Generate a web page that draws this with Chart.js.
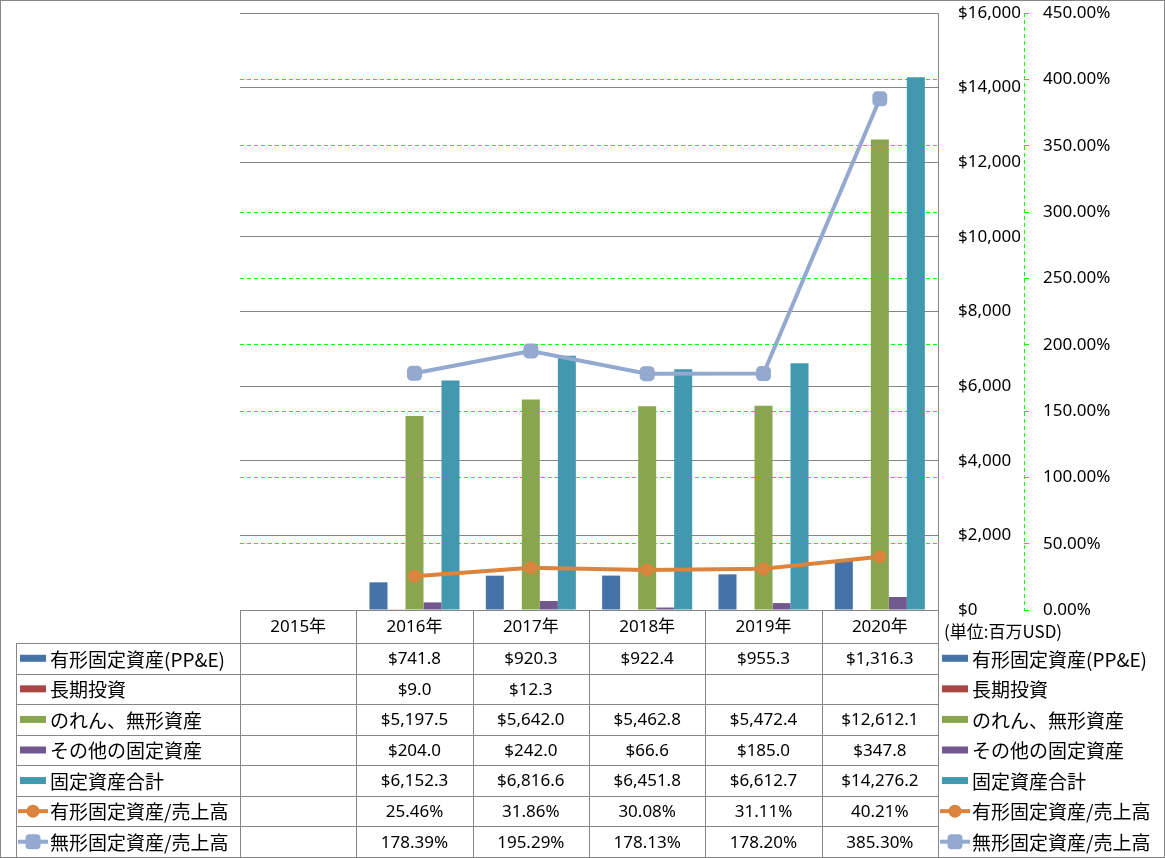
<!DOCTYPE html>
<html>
<head>
<meta charset="utf-8">
<script src="https://cdn.jsdelivr.net/npm/chart.js@4.4.0/dist/chart.umd.min.js"></script>
<style>
  body { margin: 0; background: #fff; }
</style>
</head>
<body>
<canvas id="chart" width="1165" height="858"></canvas>
<script>
// data (millions USD / percent)
var years = ['2015年', '2016年', '2017年', '2018年', '2019年', '2020年'];
var ppe = [null, 741.8, 920.3, 922.4, 955.3, 1316.3];
var longInvest = [null, 9.0, 12.3, null, null, null];
var goodwill = [null, 5197.5, 5642.0, 5462.8, 5472.4, 12612.1];
var otherAssets = [null, 204.0, 242.0, 66.6, 185.0, 347.8];
var totalAssets = [null, 6152.3, 6816.6, 6451.8, 6612.7, 14276.2];
var tangibleRatio = [null, 25.46, 31.86, 30.08, 31.11, 40.21];
var intangibleRatio = [null, 178.39, 195.29, 178.13, 178.20, 385.30];
var dollarTicks = [0, 16000, 2000];   // min, max, step
var percentTicks = [0, 450, 50];
var unitNote = '(単位:百万USD)';

var gridGray = '#868686';
var green = '#00ff00';
var font = "'Noto Sans', 'Noto Sans CJK JP', sans-serif";
var cjkFont = "'Noto Sans CJK JP', sans-serif";

var series = [
  { name: '有形固定資産(PP&E)', data: ppe, color: '#4572a7', kind: 'bar' },
  { name: '長期投資', data: longInvest, color: '#aa4643', kind: 'bar' },
  { name: 'のれん、無形資産', data: goodwill, color: '#89a54e', kind: 'bar' },
  { name: 'その他の固定資産', data: otherAssets, color: '#71588f', kind: 'bar' },
  { name: '固定資産合計', data: totalAssets, color: '#4198af', kind: 'bar' },
  { name: '有形固定資産/売上高', data: tangibleRatio, color: '#db843d', kind: 'circle' },
  { name: '無形固定資産/売上高', data: intangibleRatio, color: '#93a9cf', kind: 'square' }
];

function money(v) {
  if (v == null) return '';
  return '$' + v.toLocaleString('en-US', { minimumFractionDigits: 1, maximumFractionDigits: 1 });
}
function pct(v) {
  if (v == null) return '';
  return v.toFixed(2) + '%';
}

var datasets = series.map(function(s) {
  if (s.kind == 'bar') {
    return {
      type: 'bar', label: s.name, data: s.data,
      backgroundColor: s.color, yAxisID: 'y', order: 1
    };
  }
  return {
    type: 'line', label: s.name, data: s.data,
    borderColor: s.color, backgroundColor: s.color,
    borderWidth: 4, yAxisID: 'yp', order: 0,
    pointStyle: s.kind == 'circle' ? 'circle' : 'rectRounded',
    pointRadius: s.kind == 'circle' ? 6.5 : 8.7,
    pointBorderWidth: 0
  };
});

function drawKey(ctx, s, x, y) {
  ctx.save();
  if (s.kind == 'bar') {
    ctx.fillStyle = s.color;
    ctx.fillRect(x, y - 3.5, 26, 7);
  } else {
    ctx.strokeStyle = s.color;
    ctx.fillStyle = s.color;
    ctx.lineWidth = 4;
    ctx.beginPath();
    ctx.moveTo(x - 2, y);
    ctx.lineTo(x + 28, y);
    ctx.stroke();
    ctx.beginPath();
    if (s.kind == 'circle') {
      ctx.arc(x + 13, y, 6.5, 0, Math.PI * 2);
    } else {
      ctx.roundRect(x + 5.5, y - 7.5, 15, 15, 4);
    }
    ctx.fill();
  }
  ctx.restore();
}

function hline(ctx, x1, x2, y) {
  y = Math.round(y) + 0.5;
  ctx.beginPath(); ctx.moveTo(x1, y); ctx.lineTo(x2, y); ctx.stroke();
}
function vline(ctx, x, y1, y2) {
  x = Math.round(x) + 0.5;
  ctx.beginPath(); ctx.moveTo(x, y1); ctx.lineTo(x, y2); ctx.stroke();
}

var tablePlugin = {
  id: 'dataTable',
  afterDraw: function(chart) {
    var ctx = chart.ctx;
    var area = chart.chartArea;
    var colW = (area.right - area.left) / years.length;
    var headTop = area.bottom;
    var headBottom = 643;
    var tableBottom = 857;
    var rowH = (tableBottom - headBottom) / series.length;

    ctx.save();
    ctx.strokeStyle = gridGray;
    ctx.lineWidth = 1;

    // grid of the table
    hline(ctx, area.left, area.right, headBottom);
    for (var r = 1; r <= series.length; r++) {
      hline(ctx, 16, area.right, headBottom + r * rowH);
    }
    hline(ctx, 16, area.right, headBottom);
    vline(ctx, 16, headBottom, tableBottom);
    for (var c = 0; c <= years.length; c++) {
      vline(ctx, area.left + c * colW, headTop, tableBottom);
    }

    // header
    ctx.fillStyle = '#000';
    ctx.textAlign = 'center';
    ctx.textBaseline = 'middle';
    ctx.font = '17px ' + font;
    years.forEach(function(y, i) {
      ctx.fillText(y, area.left + (i + 0.5) * colW, (headTop + headBottom) / 2 + 1);
    });

    // rows
    series.forEach(function(s, r) {
      var cy = headBottom + (r + 0.5) * rowH;
      ctx.font = '17px ' + font;
      ctx.textAlign = 'center';
      ctx.fillStyle = '#000';
      s.data.forEach(function(v, i) {
        var txt = s.kind == 'bar' ? money(v) : pct(v);
        ctx.fillText(txt, area.left + (i + 0.5) * colW, cy + 1);
      });
      // legend on the left and on the right
      drawKey(ctx, s, 20, cy);
      drawKey(ctx, s, 942, cy);
      ctx.font = '19px ' + cjkFont;
      ctx.textAlign = 'left';
      ctx.fillStyle = '#000';
      ctx.fillText(s.name, 50, cy + 1);
      ctx.fillText(s.name, 972, cy + 1);
    });

    ctx.font = '17px ' + cjkFont;
    ctx.textAlign = 'left';
    ctx.fillText(unitNote, 944, 632);

    // dashed green line of the percent axis
    var yp = chart.scales.yp;
    ctx.strokeStyle = green;
    ctx.setLineDash([4, 3]);
    vline(ctx, yp.left, area.top, area.bottom);
    ctx.setLineDash([]);

    // outer border
    ctx.strokeStyle = gridGray;
    ctx.strokeRect(0.5, 0.5, chart.width - 1, chart.height - 1);
    ctx.restore();
  }
};

Chart.defaults.font.family = font;
Chart.defaults.font.size = 17;
Chart.defaults.color = '#000';

function noPad(scale) {
  scale.paddingTop = 0;
  scale.paddingBottom = 0;
}

var chart = new Chart(document.getElementById('chart'), {
  type: 'bar',
  data: { labels: years, datasets: datasets },
  options: {
    responsive: false,
    animation: false,
    layout: { padding: { left: 240, right: 0, top: 13, bottom: 248 } },
    datasets: {
      bar: { categoryPercentage: 0.774, barPercentage: 1 }
    },
    plugins: {
      legend: { display: false },
      tooltip: { enabled: false }
    },
    scales: {
      x: { display: false, offset: true },
      y: {
        position: 'right',
        weight: 0,
        min: dollarTicks[0], max: dollarTicks[1],
        ticks: {
          stepSize: dollarTicks[2], autoSkip: false, padding: 20, crossAlign: 'near',
          callback: function(v) { return '$' + v.toLocaleString('en-US'); }
        },
        grid: { color: gridGray, drawTicks: false },
        border: { display: true, color: gridGray },
        afterFit: function(scale) { scale.width = 86; noPad(scale); }
      },
      yp: {
        position: 'right',
        weight: 1,
        min: percentTicks[0], max: percentTicks[1],
        ticks: {
          stepSize: percentTicks[2], autoSkip: false, padding: 14, crossAlign: 'near',
          callback: function(v) { return v.toFixed(2) + '%'; }
        },
        grid: {
          color: function(c) {
            return (c.tick && (c.tick.value == percentTicks[1] || c.tick.value == percentTicks[0])) ? 'rgba(0,0,0,0)' : green;
          },
          tickLength: 5, tickColor: green, tickBorderDash: []
        },
        border: { display: false, dash: [4, 3] },
        afterFit: function(scale) { scale.width = 141; noPad(scale); }
      }
    }
  },
  plugins: [tablePlugin]
});
</script>
</body>
</html>
